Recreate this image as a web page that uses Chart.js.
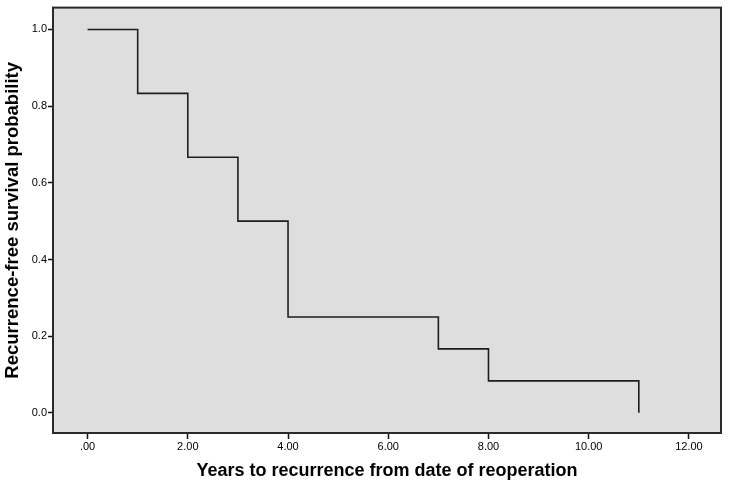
<!DOCTYPE html>
<html>
<head>
<meta charset="utf-8">
<script src="https://cdn.jsdelivr.net/npm/chart.js@4"></script>
<style>
  html, body { margin: 0; padding: 0; background: #ffffff; }
  #wrap { width: 731px; height: 482px; position: relative; }
</style>
</head>
<body>
<div id="wrap"><canvas id="c" width="731" height="482"></canvas></div>
<script>
// Data
const years = [0, 1, 2, 3, 4, 7, 8, 11];
const survival = [1.0, 0.8333, 0.6667, 0.5, 0.25, 0.1667, 0.0833, 0.0];

// Tick values and labels
const xTickValues = [0, 2, 4, 6, 8, 10, 12];
const xTickLabels = ['.00', '2.00', '4.00', '6.00', '8.00', '10.00', '12.00'];
const yTickValues = [0, 0.2, 0.4, 0.6, 0.8, 1.0];
const yTickLabels = ['0.0', '0.2', '0.4', '0.6', '0.8', '1.0'];

const xTitle = 'Years to recurrence from date of reoperation';
const yTitle = 'Recurrence-free survival probability';

const plotFrame = {
  id: 'plotFrame',
  beforeDatasetsDraw(chart) {
    const a = chart.chartArea, ctx = chart.ctx;
    ctx.save();
    ctx.fillStyle = '#dedede';
    ctx.fillRect(a.left, a.top, a.right - a.left, a.bottom - a.top);
    ctx.restore();
  },
  afterDraw(chart) {
    const a = chart.chartArea, ctx = chart.ctx;
    ctx.save();
    ctx.strokeStyle = '#2a2a2a';
    ctx.lineWidth = 2;
    ctx.strokeRect(a.left, a.top, a.right - a.left, a.bottom - a.top);
    ctx.restore();
  }
};

new Chart(document.getElementById('c'), {
  type: 'line',
  data: {
    datasets: [{
      data: years.map((x, i) => ({ x: x, y: survival[i] })),
      stepped: 'before',
      borderColor: '#1e1e1e',
      borderWidth: 1.6,
      pointRadius: 0,
      fill: false
    }]
  },
  options: {
    responsive: false,
    animation: false,
    layout: { padding: { top: 5, right: 10, left: 0, bottom: 0 } },
    plugins: { legend: { display: false }, tooltip: { enabled: false } },
    scales: {
      x: {
        type: 'linear',
        min: -0.69,
        max: 12.64,
        afterBuildTicks(scale) { scale.ticks = xTickValues.map(v => ({ value: v })); },
        afterFit(scale) { scale.height = 49; },
        ticks: {
          callback: (v) => xTickLabels[xTickValues.indexOf(v)],
          color: '#000000',
          font: { family: 'Liberation Sans', size: 11 },
          padding: 1,
          maxRotation: 0,
          autoSkip: false
        },
        grid: { drawOnChartArea: false, drawTicks: true, tickLength: 6, tickColor: '#111111', tickWidth: 1.5 },
        border: { display: false },
        title: {
          display: true,
          text: xTitle,
          color: '#000000',
          font: { family: 'Liberation Sans', size: 18, weight: 'bold' },
          padding: { top: 6, bottom: 0 }
        }
      },
      y: {
        type: 'linear',
        min: -0.0526,
        max: 1.057,
        afterBuildTicks(scale) { scale.ticks = yTickValues.map(v => ({ value: v })); },
        afterFit(scale) { scale.width = 53; },
        ticks: {
          callback: (v) => yTickLabels[yTickValues.findIndex(t => Math.abs(t - v) < 1e-9)],
          color: '#000000',
          font: { family: 'Liberation Sans', size: 11 },
          padding: 1,
          autoSkip: false
        },
        grid: { drawOnChartArea: false, drawTicks: true, tickLength: 5, tickColor: '#111111', tickWidth: 1.5 },
        border: { display: false },
        title: {
          display: true,
          text: yTitle,
          color: '#000000',
          font: { family: 'Liberation Sans', size: 18.5, weight: 'bold' },
          padding: { top: 2, bottom: 3 }
        }
      }
    }
  },
  plugins: [plotFrame]
});
</script>
</body>
</html>
